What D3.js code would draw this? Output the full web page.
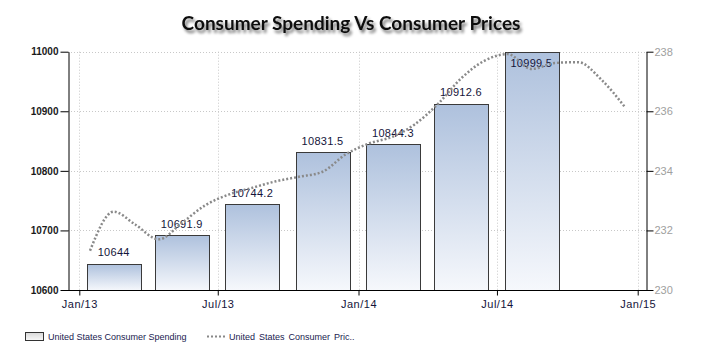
<!DOCTYPE html>
<html>
<head>
<meta charset="utf-8">
<script src="https://cdn.jsdelivr.net/npm/d3@7"></script>
<style>
  body { margin: 0; background: #fff; }
  svg { display: block; }
</style>
</head>
<body>
<script>
const width = 701, height = 353;

// quarterly consumer spending, bars centred on the middle month of each quarter
const spendingDates = ["2013-02-15", "2013-05-15", "2013-08-15", "2013-11-15", "2014-02-15", "2014-05-15", "2014-08-15"];
const spending = [10644, 10691.9, 10744.2, 10831.5, 10844.3, 10912.6, 10999.5];

// monthly consumer prices
const priceMonths = ["2013-01", "2013-02", "2013-03", "2013-04", "2013-05", "2013-06", "2013-07", "2013-08",
                     "2013-09", "2013-10", "2013-11", "2013-12", "2014-01", "2014-02", "2014-03", "2014-04",
                     "2014-05", "2014-06", "2014-07", "2014-08", "2014-09", "2014-10", "2014-11", "2014-12"];
const prices = [231.32, 232.63, 232.2, 231.7, 232.25, 232.85, 233.2, 233.43,
                233.65, 233.8, 233.97, 234.55, 234.92, 235.15, 235.55, 236.25,
                237.1, 237.7, 237.92, 237.42, 237.62, 237.65, 237.05, 236.15];

const xTicks = ["2013-01-01", "2013-07-01", "2014-01-01", "2014-07-01", "2015-01-01"];
const leftTicks = [10600, 10700, 10800, 10900, 11000];
const rightTicks = [230, 232, 234, 236, 238];

const parse = d3.utcParse("%Y-%m-%d");
const plot = {left: 68, right: 646, top: 51.7, bottom: 290};

const x = d3.scaleUtc()
    .domain([parse(xTicks[0]), parse(xTicks[xTicks.length - 1])])
    .range([79.3, 637.7]);
const yLeft = d3.scaleLinear().domain([10600, 11000]).range([plot.bottom, plot.top]);
const yRight = d3.scaleLinear().domain([230, 238]).range([plot.bottom, plot.top]);

const svg = d3.select("body").append("svg").attr("width", width).attr("height", height);
const defs = svg.append("defs");

const grad = defs.append("linearGradient").attr("id", "barGrad")
    .attr("x1", 0).attr("y1", 0).attr("x2", 0).attr("y2", 1);
grad.append("stop").attr("offset", "0%").attr("stop-color", "#aec1dd");
grad.append("stop").attr("offset", "100%").attr("stop-color", "#f6f8fc");

const legGrad = defs.append("linearGradient").attr("id", "legGrad")
    .attr("x1", 0).attr("y1", 0).attr("x2", 0).attr("y2", 1);
legGrad.append("stop").attr("offset", "0%").attr("stop-color", "#d8d8d8");
legGrad.append("stop").attr("offset", "100%").attr("stop-color", "#f8f8f8");

const shadow = defs.append("filter").attr("id", "shadow")
    .attr("x", "-10%").attr("y", "-50%").attr("width", "130%").attr("height", "200%");
shadow.append("feGaussianBlur").attr("in", "SourceAlpha").attr("stdDeviation", 1.6).attr("result", "blur");
shadow.append("feOffset").attr("in", "blur").attr("dx", 2).attr("dy", 3).attr("result", "off");
shadow.append("feComponentTransfer").attr("in", "off").attr("result", "soft")
    .append("feFuncA").attr("type", "linear").attr("slope", 0.55);
const merge = shadow.append("feMerge");
merge.append("feMergeNode").attr("in", "soft");
merge.append("feMergeNode").attr("in", "SourceGraphic");

// title
svg.append("text")
    .attr("x", 351).attr("y", 30)
    .attr("text-anchor", "middle")
    .attr("filter", "url(#shadow)")
    .style("font-family", "Lato, 'Open Sans', sans-serif")
    .style("font-size", "19px")
    .style("font-weight", "bold")
    .style("fill", "#111")
    .text("Consumer Spending Vs Consumer Prices");

// grid
const grid = svg.append("g")
    .style("stroke", "#c8c8c8")
    .style("stroke-width", 1)
    .style("stroke-dasharray", "1,2");
grid.selectAll(".hgrid").data(leftTicks).enter().append("line")
    .attr("x1", plot.left).attr("x2", plot.right)
    .attr("y1", d => Math.round(yLeft(d)) + 0.5).attr("y2", d => Math.round(yLeft(d)) + 0.5);
grid.selectAll(".vgrid").data(xTicks).enter().append("line")
    .attr("x1", d => Math.round(x(parse(d))) + 0.5).attr("x2", d => Math.round(x(parse(d))) + 0.5)
    .attr("y1", plot.top).attr("y2", plot.bottom);

// bars
const quarterPx = x(parse("2013-04-01")) - x(parse("2013-01-01"));
const barW = quarterPx * 0.78;
const bars = spendingDates.map((d, i) => ({date: parse(d), value: spending[i]}));

svg.selectAll(".bar").data(bars).enter().append("rect")
    .attr("class", "bar")
    .attr("x", d => Math.round(x(d.date) - barW / 2) + 0.5)
    .attr("y", d => Math.round(yLeft(d.value)) + 0.5)
    .attr("width", Math.round(barW))
    .attr("height", d => Math.round(plot.bottom) - Math.round(yLeft(d.value)))
    .style("fill", "url(#barGrad)")
    .style("stroke", "#3a3a3a")
    .style("stroke-width", 1);

svg.selectAll(".blabel").data(bars).enter().append("text")
    .attr("x", d => x(d.date))
    .attr("y", d => {
        const top = yLeft(d.value);
        return top - 19 < plot.top ? top + 15 : top - 7.5;
    })
    .attr("text-anchor", "middle")
    .style("font-family", "'Liberation Sans', Arial, sans-serif")
    .style("font-size", "11px")
    .style("letter-spacing", "0.3px")
    .style("fill", "#14143a")
    .text(d => d.value);

// price line
const linePts = priceMonths.map((m, i) => ({date: parse(m + "-15"), value: prices[i]}));
svg.append("path")
    .datum(linePts)
    .attr("d", d3.line().x(d => x(d.date)).y(d => yRight(d.value)).curve(d3.curveMonotoneX))
    .style("fill", "none")
    .style("stroke", "#8a8a8a")
    .style("stroke-width", 2.5)
    .style("stroke-dasharray", "2,2");

// axes
const axisStyle = g => g.selectAll("line, path").style("stroke", "#000");

const xAxis = svg.append("g")
    .attr("transform", `translate(0,${plot.bottom + 0.5})`)
    .call(d3.axisBottom(x).tickValues(xTicks.map(parse)).tickFormat(d3.utcFormat("%b/%y"))
        .tickSize(5).tickSizeOuter(0));
xAxis.select(".domain").remove();
xAxis.append("line").attr("x1", plot.left).attr("x2", plot.right + 1).attr("y1", 0).attr("y2", 0)
    .style("stroke", "#000");
xAxis.call(axisStyle);
xAxis.selectAll("text")
    .attr("dy", "0.9em")
    .style("font-family", "'Liberation Sans', Arial, sans-serif")
    .style("font-size", "11px")
    .style("letter-spacing", "0.5px")
    .style("fill", "#14143a");

const leftAxis = svg.append("g")
    .attr("transform", `translate(${plot.left + 0.5},0)`)
    .call(d3.axisLeft(yLeft).tickValues(leftTicks).tickFormat(d3.format("d")).tickSize(8).tickSizeOuter(0));
leftAxis.call(axisStyle);
leftAxis.selectAll("text")
    .attr("x", -10)
    .style("font-family", "'Liberation Sans', Arial, sans-serif")
    .style("font-size", "10px")
    .style("font-weight", "bold")
    .style("fill", "#1a1a1a");

const rightAxis = svg.append("g")
    .attr("transform", `translate(${plot.right + 0.5},0)`)
    .call(d3.axisRight(yRight).tickValues(rightTicks).tickSize(7).tickSizeOuter(0));
rightAxis.call(axisStyle);
rightAxis.selectAll("text")
    .attr("x", 8)
    .style("font-family", "'Liberation Sans', Arial, sans-serif")
    .style("font-size", "11px")
    .style("fill", "#a0a0a0");

// legend
const legend = svg.append("g").attr("transform", "translate(25,332)");
legend.append("rect")
    .attr("x", 0.5).attr("y", 0.5).attr("width", 18).attr("height", 8)
    .style("fill", "url(#legGrad)").style("stroke", "#333");
legend.append("text")
    .attr("x", 23).attr("y", 8)
    .style("font-family", "'Liberation Sans', Arial, sans-serif")
    .style("font-size", "9px")
    .style("fill", "#1a1a50")
    .text("United States Consumer Spending");
legend.append("line")
    .attr("x1", 182).attr("x2", 201).attr("y1", 4.5).attr("y2", 4.5)
    .style("stroke", "#888").style("stroke-width", 2).style("stroke-dasharray", "2,2");
legend.append("text")
    .attr("x", 204).attr("y", 8)
    .style("font-family", "'Liberation Sans', Arial, sans-serif")
    .style("font-size", "9px")
    .style("word-spacing", "1.5px")
    .style("fill", "#1a1a50")
    .text("United States Consumer Pric..");
</script>
</body>
</html>
